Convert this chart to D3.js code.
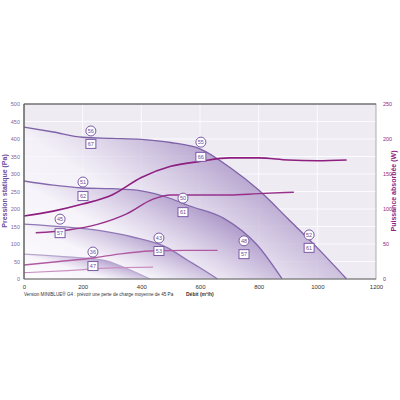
<!DOCTYPE html>
<html>
<head>
<meta charset="utf-8">
<script src="https://d3js.org/d3.v7.min.js"></script>
<style>
  body { margin: 0; background: #fff; }
  text { font-family: "Liberation Sans", Arial, sans-serif; }
</style>
</head>
<body>
<div id="chart"></div>
<script>
// fan curves: débit (m3/h) vs pression statique (Pa)
var fan1 = [[0,434],[100,420],[200,405],[300,402],[400,399],[500,390],[600,372],[700,320],[800,254],[900,172],[1000,89],[1100,0]];
var fan2 = [[0,280],[100,268],[200,260],[300,258],[400,252],[500,230],[560,210],[680,174],[795,97],[880,0]];
var fan3 = [[0,157],[150,148],[260,138],[370,120],[490,89],[555,55],[600,32],[660,0]];
var fan4 = [[0,71],[150,63],[270,54],[350,30],[430,0]];

// puissance absorbée (W)
var pow1 = [[0,90],[100,97],[200,107],[300,120],[400,145],[500,161],[600,168],[700,173],[800,173],[900,170],[1000,169],[1100,170]];
var pow2 = [[40,66],[150,70],[250,78],[350,93],[440,114],[500,120],[600,120],[700,120],[800,122],[920,124]];
var pow3 = [[0,20],[120,25],[235,30],[330,36],[430,40],[550,41],[660,41]];
var pow4 = [[0,9],[150,12],[300,16],[440,17]];

// noise labels (dB): circle = Lw, square = Lp
var labelText  = ["56","67","55","66","52","61","51","62","50","61","48","57","45","57","43","53","36","47"];
var labelFlow  = [228,228,603,603,972,972,201,201,542,542,750,750,123,123,460,460,235,235];
var labelPress = [423,386,391,349,126,89,277,237,231,191,109,71,171,131,117,80,77,37];
var labelShape = ["c","s","c","s","c","s","c","s","c","s","c","s","c","s","c","s","c","s"];

var xTicks = [0,200,400,600,800,1000,1200];
var yTicks = [0,50,100,150,200,250,300,350,400,450,500];
var wTicks = [0,50,100,150,200,250];

var svg = d3.select("#chart").append("svg")
    .attr("width", 400).attr("height", 400);

var x = d3.scaleLinear().domain([0,1200]).range([24,376]);
var y = d3.scaleLinear().domain([0,500]).range([279,104]);
var yw = d3.scaleLinear().domain([0,250]).range([279,104]);

// plot background
svg.append("rect").attr("x", 24).attr("y", 104).attr("width", 352).attr("height", 175)
    .attr("fill", "#eeebf3");

// grid
svg.append("g").selectAll("line").data(xTicks.slice(1, -1)).join("line")
    .attr("x1", d => x(d)).attr("x2", d => x(d)).attr("y1", 104).attr("y2", 279)
    .attr("stroke", "#fcfbff").attr("stroke-width", 1);
svg.append("g").selectAll("line").data(yTicks.slice(1, -1)).join("line")
    .attr("x1", 24).attr("x2", 376).attr("y1", d => y(d)).attr("y2", d => y(d))
    .attr("stroke", "#fcfbff").attr("stroke-width", 1);

// gradient for fan areas
var defs = svg.append("defs");
var grad = defs.append("linearGradient").attr("id", "fanGrad")
    .attr("x1", 0).attr("y1", 1).attr("x2", 1).attr("y2", 0.3);
grad.append("stop").attr("offset", 0).attr("stop-color", "#ffffff").attr("stop-opacity", 0.95);
grad.append("stop").attr("offset", 0.45).attr("stop-color", "#f6f3fa").attr("stop-opacity", 0.7);
grad.append("stop").attr("offset", 0.85).attr("stop-color", "#a088c0").attr("stop-opacity", 0.9);
grad.append("stop").attr("offset", 1).attr("stop-color", "#8c6eaf").attr("stop-opacity", 0.95);

var area = d3.area().x(d => x(d[0])).y0(y(0)).y1(d => y(d[1])).curve(d3.curveMonotoneX);
var line = d3.line().x(d => x(d[0])).y(d => y(d[1])).curve(d3.curveMonotoneX);
var wline = d3.line().x(d => x(d[0])).y(d => yw(d[1])).curve(d3.curveMonotoneX);

var fans = [fan1, fan2, fan3, fan4];
var fanStroke = ["#7e62a8", "#8468ad", "#8f78b6", "#b6a6cf"];
fans.forEach(function(f, i) {
  svg.append("path").datum(f).attr("d", area).attr("fill", "url(#fanGrad)");
  svg.append("path").datum(f).attr("d", line).attr("fill", "none")
      .attr("stroke", fanStroke[i]).attr("stroke-width", 1.3);
});

var pows = [pow1, pow2, pow3, pow4];
var powStroke = ["#8e1f80", "#98308a", "#b15aa2", "#c98fc0"];
var powWidth = [1.6, 1.4, 1.3, 1.2];
pows.forEach(function(p, i) {
  svg.append("path").datum(p).attr("d", wline).attr("fill", "none")
      .attr("stroke", powStroke[i]).attr("stroke-width", powWidth[i]);
});

// labels
var labs = svg.append("g");
labelText.forEach(function(t, i) {
  var cx = x(labelFlow[i]), cy = y(labelPress[i]);
  if (labelShape[i] === "c") {
    labs.append("circle").attr("cx", cx).attr("cy", cy).attr("r", 5)
        .attr("fill", "#fff").attr("stroke", "#7a5aa6").attr("stroke-width", 1);
  } else {
    labs.append("rect").attr("x", cx - 5).attr("y", cy - 4.5).attr("width", 10).attr("height", 9)
        .attr("fill", "#fff").attr("stroke", "#7a5aa6").attr("stroke-width", 1);
  }
  labs.append("text").attr("x", cx).attr("y", cy + 2).attr("text-anchor", "middle")
      .attr("font-size", 5.5).attr("fill", "#6a4c96").text(t);
});

// frame
svg.append("rect").attr("x", 24).attr("y", 104).attr("width", 352).attr("height", 175)
    .attr("fill", "none").attr("stroke", "#9a9a9a").attr("stroke-width", 0.8);
svg.append("line").attr("x1", 24).attr("x2", 376).attr("y1", 104).attr("y2", 104)
    .attr("stroke", "#555").attr("stroke-width", 1.2);
svg.append("line").attr("x1", 24).attr("x2", 24).attr("y1", 104).attr("y2", 279)
    .attr("stroke", "#555").attr("stroke-width", 1.2);
svg.append("line").attr("x1", 24).attr("x2", 376).attr("y1", 279).attr("y2", 279)
    .attr("stroke", "#777").attr("stroke-width", 1);

// axes
var xAxis = svg.append("g").attr("transform", "translate(0,279)")
    .call(d3.axisBottom(x).tickValues(xTicks).tickFormat(d3.format("d")).tickSize(0).tickPadding(6));
xAxis.select(".domain").remove();
xAxis.selectAll("text").attr("font-size", 6).attr("fill", "#333");

var yAxis = svg.append("g").attr("transform", "translate(24,0)")
    .call(d3.axisLeft(y).tickValues(yTicks).tickSize(0).tickPadding(4));
yAxis.select(".domain").remove();
yAxis.selectAll("text").attr("font-size", 5.5).attr("fill", "#7a68a0");

var wAxis = svg.append("g").attr("transform", "translate(376,0)")
    .call(d3.axisRight(yw).tickValues(wTicks).tickSize(0).tickPadding(7));
wAxis.select(".domain").remove();
wAxis.selectAll("text").attr("font-size", 5.5).attr("fill", "#8e2a80");

// axis titles
svg.append("text").attr("transform", "translate(7,191) rotate(-90)")
    .attr("text-anchor", "middle").attr("font-size", 7).attr("font-weight", "bold")
    .attr("fill", "#6c4fa0").text("Pression statique (Pa)");
svg.append("text").attr("transform", "translate(396,191) rotate(-90)")
    .attr("text-anchor", "middle").attr("font-size", 7).attr("font-weight", "bold")
    .attr("fill", "#8e1f80").text("Puissance absorbée (W)");

svg.append("text").attr("x", 24).attr("y", 296).attr("font-size", 4.6).attr("fill", "#333")
    .text("Version MINIBLUE® G4 : prévoir une perte de charge moyenne de 45 Pa");
svg.append("text").attr("x", 186).attr("y", 296).attr("font-size", 5).attr("font-weight", "bold")
    .attr("fill", "#333").text("Débit (m³/h)");
</script>
</body>
</html>
